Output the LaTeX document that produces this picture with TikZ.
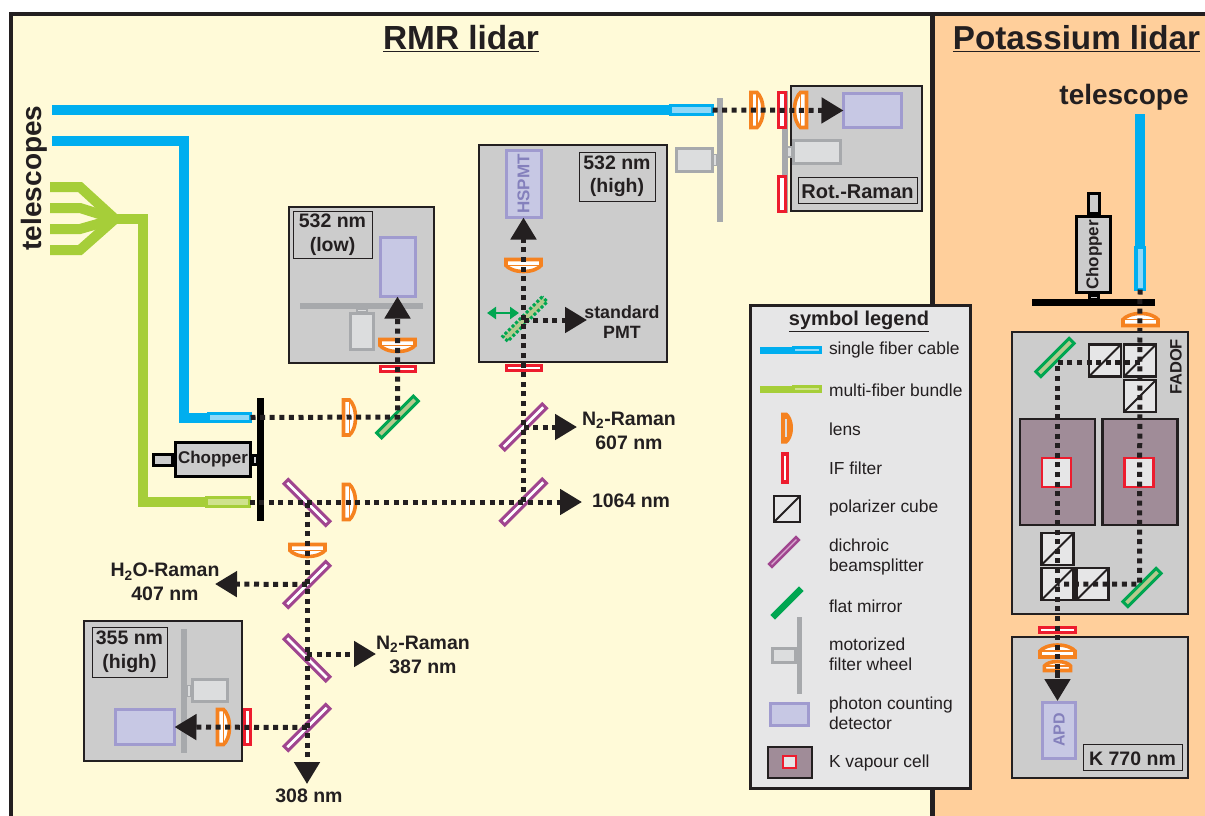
\documentclass[tikz,border=0pt]{standalone}
\usepackage{fontspec}
\setmainfont{Liberation Sans}
\usepackage{xcolor}
\usepackage{tikz}
\usetikzlibrary{arrows.meta}
\definecolor{inkblack}{HTML}{231F20}
\definecolor{rmryellow}{HTML}{FFFAD8}
\definecolor{potorange}{HTML}{FFCF9B}
\definecolor{housegray}{HTML}{CCCCCC}
\definecolor{legendgray}{HTML}{E6E6E7}
\definecolor{fiberblue}{HTML}{00AEEF}
\definecolor{fiberpale}{HTML}{8FD8F8}
\definecolor{bundlegreen}{HTML}{A6CE39}
\definecolor{bundlepale}{HTML}{CFE28D}
\definecolor{lensorange}{HTML}{F58220}
\definecolor{filterred}{HTML}{ED1C2E}
\definecolor{splitpurple}{HTML}{A0458F}
\definecolor{splitpale}{HTML}{D9A9CF}
\definecolor{mirrorgreen}{HTML}{00A651}
\definecolor{mirrorpale}{HTML}{B5C98E}
\definecolor{wheelgray}{HTML}{A7A9AC}
\definecolor{motorfill}{HTML}{DCDDDE}
\definecolor{detfill}{HTML}{C7C8E4}
\definecolor{detline}{HTML}{A09BCF}
\definecolor{detink}{HTML}{8480BC}
\definecolor{cellfill}{HTML}{A08C98}
\newcommand{\labelsize}{\fontsize{19.5}{23.5}\selectfont\bfseries}
\newcommand{\legendsize}{\fontsize{17.4}{20}\selectfont}
\tikzset{
  every node/.style={inner sep=0pt,outer sep=0pt,text=inkblack},
  housing/.style={draw=inkblack,fill=housegray,line width=2},
  tagbox/.style={draw=inkblack,line width=1,align=center,font=\labelsize,execute at begin node=\rule{0pt}{17.5pt}},
  tagtext/.style={align=center,font=\labelsize},
  legendtext/.style={anchor=west,align=left,font=\legendsize},
  fiberline/.style={draw=fiberblue,line width=10},
  bundleline/.style={draw=bundlegreen,line width=10},
  fiberend/.style={draw=fiberblue,fill=fiberpale,line width=3.5},
  bundleend/.style={draw=bundlegreen,fill=bundlepale,line width=3.5},
  detector/.style={draw=detline,fill=detfill,line width=3},
  wheelbar/.style={fill=wheelgray},
  motorbox/.style={draw=wheelgray,fill=motorfill,line width=3},
  motorlink/.style={draw=wheelgray,fill=motorfill,line width=1.5},
  chopperbox/.style={draw=black,fill=housegray,line width=3},
  chopperdisc/.style={fill=black},
  iffilter/.style={draw=filterred,fill=white,line width=3},
  splitter/.style={draw=splitpurple,fill=white,line width=3,minimum width=59,minimum height=6},
  flatmirror/.style={draw=mirrorgreen,fill=mirrorpale,line width=3,minimum width=52,minimum height=7},
  cube/.style={draw=inkblack,fill=legendgray,line width=2.5,minimum width=32,minimum height=32,
    path picture={\draw[inkblack,line width=2] (path picture bounding box.south west) -- (path picture bounding box.north east);}},
  vapourcell/.style={draw=inkblack,fill=cellfill,line width=2.5},
  cellwindow/.style={draw=filterred,fill=legendgray,line width=2.5},
  beam/.style={draw=inkblack,line width=5,dash pattern=on 5pt off 4.6pt},
  beamtip/.style={beam,-{Triangle[length=22pt,width=25pt,fill=inkblack]}},
  lensline/.style={draw=lensorange,line width=1.6,fill=white},
  lens/.pic={
    \draw[lensline,line width=3.6] (-6,-17.5) -- (0,-17.5) .. controls (3,-15) and (6,-9) .. (6,0) .. controls (6,9) and (3,15) .. (0,17.5) -- (-6,17.5) -- cycle;
    \draw[lensline] (0,-17.5) -- (0,17.5);
  },
  legendlens/.pic={
    \fill[lensorange] (-6,-15.5) -- (0,-15.5) .. controls (3,-13) and (6,-8) .. (6,0) .. controls (6,8) and (3,13) .. (0,15.5) -- (-6,15.5) -- cycle;
    \draw[motorfill,line width=1.2] (-1,-9) -- (-1,9);
  }
}
\begin{document}
\begin{tikzpicture}[x=1pt,y=-1pt]
  \useasboundingbox (0,0) rectangle (1205,816);
  \fill[white] (0,0) rectangle (1205,816);
  \fill[rmryellow] (11,14) rectangle (932,816);
  \fill[potorange] (932,14) rectangle (1205,816);
  \draw[inkblack,line width=4] (11,816) -- (11,14) -- (1205,14);
  \draw[inkblack,line width=5] (932.5,14) -- (932.5,816);

  \node[font=\fontsize{33.4}{36}\selectfont\bfseries] (rmrtitle) at (461,39) {\underline{RMR lidar}};
  \node[font=\fontsize{33.2}{36}\selectfont\bfseries] (pottitle) at (1076.5,39) {\underline{Potassium lidar}};
  \node[font=\fontsize{28}{30}\selectfont\bfseries] (telright) at (1124,97) {telescope};
  \node[font=\fontsize{28}{30}\selectfont\bfseries,rotate=90] (telleft) at (34,178) {telescopes};

  % housings
  \node[housing,minimum width=131,minimum height=125] (rotbox) at (856.5,148.5) {};
  \node[housing,minimum width=188,minimum height=217] (highbox) at (573,253.5) {};
  \node[housing,minimum width=145,minimum height=156] (lowbox) at (361.5,285) {};
  \node[housing,minimum width=158,minimum height=140] (uvbox) at (163,691) {};
  \node[housing,minimum width=176,minimum height=282] (fadofbox) at (1100,473) {};
  \node[housing,minimum width=176,minimum height=141] (kbox) at (1100,707.5) {};

  % fibers
  \coordinate (fibtop) at (52,110);
  \coordinate (fibmid) at (52,141);
  \coordinate (fibk) at (1140,114);
  \node[fiberend,minimum width=42,minimum height=9] (endtop) at (691.5,110) {};
  \node[fiberend,minimum width=42,minimum height=8] (endmid) at (229.5,417.5) {};
  \node[bundleend,minimum width=43,minimum height=9] (endmulti) at (228,502) {};
  \node[fiberend,minimum width=8.5,minimum height=42] (endk) at (1140,268.5) {};
  \draw[fiberline] (fibtop) -- (endtop.west);
  \draw[fiberline,miter limit=10] (fibmid) -- (184,141) -- (184,417.5) -- (endmid.west);
  \draw[fiberline] (fibk) -- (endk.north);
  \coordinate (hub) at (115,219);
  \draw[bundleline] (50,187) -- (80,187) -- (hub);
  \draw[bundleline] (50,208) -- (80,208) -- (hub);
  \draw[bundleline] (50,229) -- (80,229) -- (hub);
  \draw[bundleline] (50,250) -- (80,250) -- (hub);
  \draw[bundleline] (hub) -- (142.5,219) -- (142.5,502) -- (endmulti.west);

  % filter wheels
  \node[wheelbar,minimum width=6,minimum height=124] (wheeltop) at (720,160) {};
  \node[motorbox,minimum width=36,minimum height=23] (motortop) at (694.5,160) {};
  \node[motorlink,minimum width=4,minimum height=11] (linktop) at (715,160) {};
  \node[wheelbar,minimum width=6,minimum height=122] (wheelrot) at (785,152) {};
  \node[motorlink,minimum width=5,minimum height=10] (linkrot) at (789.5,152) {};
  \node[motorbox,minimum width=47,minimum height=23] (motorrot) at (817,152) {};
  \node[wheelbar,minimum width=123,minimum height=6] (wheellow) at (361.5,306) {};
  \node[motorlink,minimum width=10,minimum height=3] (linklow) at (362,310.5) {};
  \node[motorbox,minimum width=23,minimum height=36] (motorlow) at (362,331.5) {};
  \node[wheelbar,minimum width=6,minimum height=124] (wheeluv) at (184,691) {};
  \node[motorlink,minimum width=4,minimum height=11] (linkuv) at (189,691) {};
  \node[motorbox,minimum width=35,minimum height=22] (motoruv) at (210,690.5) {};

  % choppers
  \node[chopperdisc,minimum width=7,minimum height=123] (discrmr) at (260.5,459.5) {};
  \node[chopperbox,minimum width=75,minimum height=34] (choprmr) at (213,459.5) {};
  \node[chopperbox,minimum width=19,minimum height=11] (stubrmr) at (163,460) {};
  \node[chopperbox,minimum width=5,minimum height=9] (stubrmrb) at (254.5,459.5) {};
  \node[chopperdisc,minimum width=123,minimum height=7] (disck) at (1093.5,302.5) {};
  \node[chopperbox,minimum width=11,minimum height=20] (stubk) at (1094,203) {};
  \node[chopperbox,minimum width=9,minimum height=4] (stubkb) at (1094,297) {};
  \node[chopperbox,minimum width=34,minimum height=76] (chopk) at (1093.5,254.5) {};
  \node[font=\fontsize{17}{20}\selectfont\bfseries] (choprmrtext) at (213,459) {Chopper};
  \node[font=\fontsize{17}{20}\selectfont\bfseries,rotate=90] (chopktext) at (1094,255) {Chopper};

  % detectors
  \node[detector,minimum width=58,minimum height=34] (detrot) at (872.5,110.5) {};
  \node[detector,minimum width=35,minimum height=67] (dethigh) at (523.5,184) {};
  \node[detector,minimum width=35,minimum height=59] (detlow) at (397.5,267) {};
  \node[detector,minimum width=59,minimum height=35] (detuv) at (145,727) {};
  \node[detector,minimum width=33,minimum height=56] (detk) at (1059,730.5) {};
  \node[text=detink,rotate=90,font=\fontsize{17}{20}\selectfont\bfseries] (hspmt) at (523.5,184) {HSPMT};
  \node[text=detink,rotate=90,font=\fontsize{16}{20}\selectfont\bfseries] (apd) at (1059,730) {APD};

  % filters
  \node[iffilter,minimum width=7,minimum height=35] (iftop) at (782,110) {};
  \node[iffilter,minimum width=7,minimum height=35] (iflow) at (782,194) {};
  \node[iffilter,minimum width=35,minimum height=5.5] (iflowbox) at (397.5,369) {};
  \node[iffilter,minimum width=35,minimum height=5.5] (ifhigh) at (523.5,368) {};
  \node[iffilter,minimum width=6.5,minimum height=35] (ifuv) at (247.5,727) {};
  \node[iffilter,minimum width=36,minimum height=5.5] (ifk) at (1057.5,630) {};

  % splitters and mirrors
  \node[flatmirror,rotate=45] (mirrorlow) at (397.5,417) {};
  \node[splitter,rotate=-45] (splitmain) at (307,502.5) {};
  \node[splitter,rotate=45] (split1064) at (523.5,502) {};
  \node[splitter,rotate=45] (split607) at (523.5,427) {};
  \node[splitter,rotate=45] (split407) at (307,584.5) {};
  \node[splitter,rotate=-45] (split387) at (307,658) {};
  \node[splitter,rotate=45] (split355) at (307,727.5) {};
  \node[flatmirror,minimum width=56,dash pattern=on 3pt off 2pt,rotate=45] (mirrorflip) at (525,319) {};
  \node[flatmirror,minimum width=47,rotate=45] (mirrorfa) at (1055,357.5) {};
  \node[flatmirror,minimum width=47,rotate=45] (mirrorfb) at (1142,587.5) {};

  % cubes and vapour cells
  \node[cube] (cubea) at (1105,360.5) {};
  \node[cube] (cubeb) at (1140,360.5) {};
  \node[cube] (cubec) at (1140,396) {};
  \node[cube] (cubed) at (1057.5,549) {};
  \node[cube] (cubee) at (1057.5,584) {};
  \node[cube] (cubef) at (1092.5,584) {};
  \node[vapourcell,minimum width=75,minimum height=106] (cella) at (1057.5,472) {};
  \node[vapourcell,minimum width=75,minimum height=106] (cellb) at (1140,472) {};
  \node[cellwindow,minimum width=29,minimum height=29] (winda) at (1056.5,472.5) {};
  \node[cellwindow,minimum width=29,minimum height=29] (windb) at (1139,472.5) {};

  % lenses
  \pic at (757,110) {lens};
  \pic[rotate=180] at (800.5,110) {lens};
  \pic at (349.5,417.5) {lens};
  \pic at (349.5,502) {lens};
  \pic[rotate=-90] at (397.5,345.5) {lens};
  \pic[rotate=-90] at (523.5,265.5) {lens};
  \pic[rotate=-90] at (307.5,550.5) {lens};
  \pic at (223.5,727) {lens};
  \pic[rotate=90] at (1140.5,319.5) {lens};
  \pic[rotate=90] at (1057.5,651) {lens};
  \pic[rotate=90,scale=.75] at (1057.5,666) {lens};

  % beams
  \draw[beamtip] (endtop.east) -- (detrot.west);
  \draw[beamtip] (endmid.east) -- (mirrorlow.center) -- (detlow.south);
  \coordinate (tip1064) at (582,502);
  \draw[beamtip] (endmulti.east) -- (tip1064);
  \draw[beamtip] (split1064.center) -- (dethigh.south);
  \coordinate (tip607) at (577,427);
  \draw[beamtip] (split607.center) -- (tip607);
  \coordinate (tippmt) at (587,320);
  \draw[beamtip] (523.5,320) -- (tippmt);
  \coordinate (tip308) at (307,784);
  \draw[beamtip] (splitmain.center) -- (tip308);
  \coordinate (tip407) at (215,584);
  \draw[beamtip] (split407.center) -- (tip407);
  \coordinate (tip387) at (376,654);
  \draw[beamtip] (307,654) -- (tip387);
  \draw[beamtip] (split355.center) -- (detuv.east);
  \draw[beam] (endk.south) -- (1139.5,584) -- (1057.5,584);
  \draw[beam] (1139.5,362) -- (1057.5,362) -- (1057.5,678);
  \coordinate (tipk) at (1057.5,701);
  \draw[beamtip] (1057.5,670) -- (tipk);
  \coordinate (flipa) at (487,313);
  \coordinate (flipb) at (519,313);
  \draw[mirrorgreen,line width=2.5,{Triangle[length=9pt,width=12pt]}-{Triangle[length=9pt,width=12pt]}] (flipa) -- (flipb);

  % labels
  \node[tagbox,font=\fontsize{20}{24}\selectfont\bfseries,minimum width=119,minimum height=26] (tagrot) at (857.5,190) {Rot.-Raman};
  \node[tagbox,minimum width=76,minimum height=49] (taghigh) at (617,176.5) {532 nm\\(high)};
  \node[tagbox,minimum width=79,minimum height=47] (taglow) at (332.5,234.5) {532 nm\\(low)};
  \node[tagbox,minimum width=75,minimum height=50] (taguv) at (129.5,652) {355 nm\\(high)};
  \node[tagbox,minimum width=99,minimum height=26] (tagk) at (1132.5,757) {K 770 nm};
  \node[font=\fontsize{16.5}{20}\selectfont\bfseries,rotate=90] (fadoftext) at (1176,367) {FADOF};
  \node[tagtext,font=\fontsize{17.8}{20}\selectfont\bfseries] (stdpmt) at (622,322) {standard\\PMT};
  \node[tagtext] (lab607) at (629,431) {N\textsubscript{2}-Raman\\607 nm};
  \node[tagtext,anchor=west] (lab1064) at (592,501) {1064 nm};
  \node[tagtext] (lab407) at (165,582) {H\textsubscript{2}O-Raman\\407 nm};
  \node[tagtext] (lab387) at (423,655) {N\textsubscript{2}-Raman\\387 nm};
  \node[tagtext] (lab308) at (309,796) {308 nm};

  % legend
  \node[draw=inkblack,fill=legendgray,line width=3,minimum width=220,minimum height=483] (legend) at (860,546.5) {};
  \node[font=\fontsize{20}{24}\selectfont\bfseries] (legtitle) at (859,321) {\underline{symbol legend}};
  \node[fiberend,line width=3,minimum width=27,minimum height=5.5] (legfibend) at (807,350) {};
  \coordinate (legfib) at (760,350);
  \draw[fiberline,line width=7] (legfib) -- (legfibend.west);
  \node[bundleend,line width=3,minimum width=27,minimum height=5.5] (legbunend) at (807,389) {};
  \coordinate (legbun) at (760,389);
  \draw[bundleline,line width=7] (legbun) -- (legbunend.west);
  \pic at (787,428) {legendlens};
  \node[iffilter,line width=3.5,minimum width=5,minimum height=28] (legif) at (785,468) {};
  \node[cube,minimum width=26,minimum height=26] (legcube) at (787,509) {};
  \node[draw=splitpurple,fill=splitpale,line width=2.5,minimum width=38,minimum height=4,rotate=45] (legsplit) at (784,552) {};
  \node[draw=mirrorgreen,fill=mirrorgreen,line width=2.5,minimum width=38,minimum height=4,rotate=45] (legmirror) at (787,603) {};
  \node[wheelbar,minimum width=5,minimum height=77] (legwheel) at (799.5,655.5) {};
  \node[motorbox,minimum width=23,minimum height=14] (legmotor) at (784,655.5) {};
  \node[detector,minimum width=38,minimum height=22] (legdet) at (789.5,714.5) {};
  \node[vapourcell,minimum width=44,minimum height=31] (legcell) at (790,762.5) {};
  \node[cellwindow,line width=2,minimum width=13,minimum height=12] (legwind) at (789.5,762) {};
  \node[legendtext] (txtfib) at (829,350) {single fiber cable};
  \node[legendtext] (txtbun) at (829,390) {multi-fiber bundle};
  \node[legendtext] (txtlens) at (829,429) {lens};
  \node[legendtext] (txtif) at (829,468) {IF filter};
  \node[legendtext] (txtcube) at (829,508) {polarizer cube};
  \node[legendtext] (txtsplit) at (829,556.5) {dichroic\\beamsplitter};
  \node[legendtext] (txtmirror) at (829,606) {flat mirror};
  \node[legendtext] (txtwheel) at (829,654.5) {motorized\\filter wheel};
  \node[legendtext] (txtdet) at (829,713.5) {photon counting\\detector};
  \node[legendtext] (txtcell) at (829,763) {K vapour cell};
\end{tikzpicture}
\end{document}
